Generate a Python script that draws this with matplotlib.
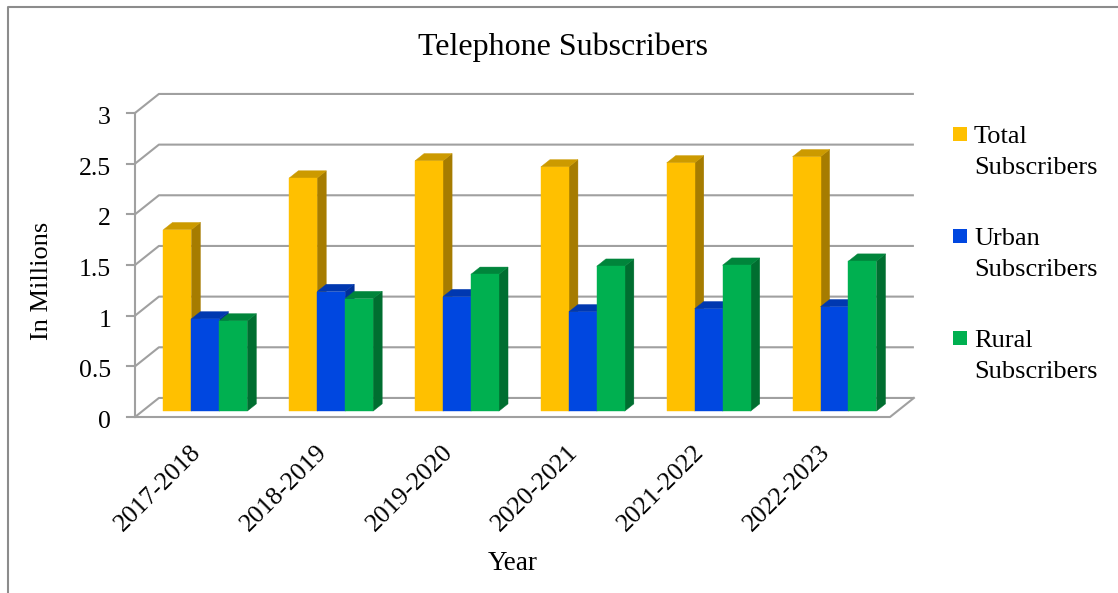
import matplotlib
matplotlib.use('Agg')
import matplotlib.pyplot as plt
from matplotlib.patches import Polygon, Rectangle
from matplotlib.lines import Line2D

plt.rcParams['font.family'] = ['Liberation Serif', 'DejaVu Serif']

years = ['2017-2018', '2018-2019', '2019-2020', '2020-2021', '2021-2022', '2022-2023']
total = [1.79, 2.30, 2.47, 2.41, 2.45, 2.51]
urban = [0.91, 1.18, 1.13, 0.98, 1.01, 1.03]
rural = [0.89, 1.11, 1.35, 1.43, 1.44, 1.48]
series_names = [('Total', 'Subscribers'), ('Urban', 'Subscribers'), ('Rural', 'Subscribers')]
y_ticks = [0, 0.5, 1, 1.5, 2, 2.5, 3]
y_tick_labels = ['0', '0.5', '1', '1.5', '2', '2.5', '3']

# front, top, side shades for each series
shades = [('#FFC000', '#CC9A00', '#A67C00'),
          ('#0047E0', '#0038B0', '#002F98'),
          ('#00B050', '#00853B', '#006E30')]

DX, DY = 0.19, 0.188   # shift of the back wall (data units)
D0, D1 = 0.31, 0.69    # bar depth, as fraction of the floor depth
BW = 1 / 4.5           # bar width, gap = 150%
grid_c = '#A0A0A0'


def proj(x, y, d):
    return (x + d * DX, y + d * DY)


fig = plt.figure(figsize=(11.18, 5.93), dpi=100)
W, H = 1118, 593
ax = fig.add_axes([135 / W, 1 - 417 / H, 755 / W, 304 / H])
ax.set_xlim(0, 6)
ax.set_ylim(0, 3)
ax.axis('off')

# back wall gridlines + side wall diagonals + ticks
for v, lab in zip(y_ticks, y_tick_labels):
    ax.plot([0, DX, 6 + DX], [v, v + DY, v + DY], color=grid_c, lw=1.5,
            clip_on=False, zorder=1, solid_capstyle='butt')
    ax.plot([-0.064, 0], [v, v], color=grid_c, lw=1.5, clip_on=False, zorder=1)
    ax.text(-0.19, v - 0.05, lab, ha='right', va='center', fontsize=18.5, clip_on=False)

# value axis and floor outline
ax.plot([0, 0], [0, 3], color=grid_c, lw=1.5, clip_on=False, zorder=1)
ax.plot([0, 6, 6 + DX], [0, 0, DY], color=grid_c, lw=1.5, clip_on=False, zorder=1)

# 3d bars, drawn left to right so fronts hide the neighbour's side
z = 2
for i in range(len(years)):
    for j, vals in enumerate([total, urban, rural]):
        x0 = i + 0.5 - 1.5 * BW + j * BW
        x1 = x0 + BW
        h = vals[i]
        front_c, top_c, side_c = shades[j]
        side = [proj(x1, 0, D0), proj(x1, 0, D1), proj(x1, h, D1), proj(x1, h, D0)]
        top = [proj(x0, h, D0), proj(x1, h, D0), proj(x1, h, D1), proj(x0, h, D1)]
        front = [proj(x0, 0, D0), proj(x1, 0, D0), proj(x1, h, D0), proj(x0, h, D0)]
        for pts, c in [(side, side_c), (top, top_c), (front, front_c)]:
            ax.add_patch(Polygon(pts, closed=True, facecolor=c, edgecolor=c,
                                 lw=0.3, clip_on=False, zorder=z))
            z += 1

# category labels
for i, yr in enumerate(years):
    ax.text(i + 0.5 + 0.03, -0.36, yr, rotation=45, rotation_mode='anchor',
            ha='right', va='baseline', fontsize=18.5, clip_on=False)

fig.text(563 / W, 1 - 47 / H, 'Telephone Subscribers', ha='center', va='center', fontsize=23)
fig.text(42 / W, 1 - 281 / H, 'In Millions', ha='center', va='center', rotation=90, fontsize=19)
fig.text(513 / W, 1 - 564 / H, 'Year', ha='center', va='center', fontsize=19.5)

# legend: square marker + two-line label
for k, (line1, line2) in enumerate(series_names):
    base = 143 + 102 * k   # baseline of the first line (px from top)
    fig.add_artist(Rectangle((953 / W, 1 - (base - 2) / H), 14 / W, 14 / H,
                             transform=fig.transFigure, facecolor=shades[k][0],
                             edgecolor='none'))
    fig.text(974 / W, 1 - base / H, line1, ha='left', va='baseline', fontsize=19)
    fig.text(974 / W, 1 - (base + 31) / H, line2, ha='left', va='baseline', fontsize=19)

# chart area border
fig.add_artist(Line2D([7.5 / W, 7.5 / W, 1], [0, 1 - 7 / H, 1 - 7 / H],
                      transform=fig.transFigure, color='#8C8C8C', lw=1.5))

fig.savefig('out.png', dpi=100)
